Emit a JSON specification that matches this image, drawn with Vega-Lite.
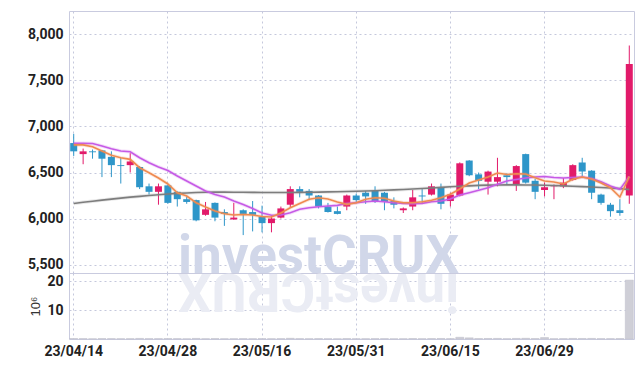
{
  "$schema": "https://vega.github.io/schema/vega-lite/v6.json",
  "padding": {"left": 26, "top": 10, "right": 5, "bottom": 5},
  "background": "white",
  "spacing": 0,
  "bounds": "flush",
  "config": {
    "view": {"stroke": "#c9cbdf", "strokeWidth": 1},
    "axis": {
      "labelFont": "Roboto",
      "labelFontSize": 14,
      "labelFontWeight": "bold",
      "labelColor": "#222222",
      "ticks": false,
      "domain": false,
      "gridColor": "#c5c8dc",
      "gridDash": [2, 3],
      "gridWidth": 1,
      "labelPadding": 6,
      "bandPosition": 0.5
    }
  },
  "datasets": {
    "px": [
      {"d":"23/04/14","o":6820,"h":6920,"l":6680,"c":6730,"v":0.15,"m5":6800,"m10":6817,"m60":6163},
      {"d":"23/04/17","o":6700,"h":6760,"l":6590,"c":6730,"v":0.12,"m5":6800,"m10":6817,"m60":6176},
      {"d":"23/04/18","o":6730,"h":6750,"l":6650,"c":6720,"v":0.08,"m5":6780,"m10":6815,"m60":6188},
      {"d":"23/04/19","o":6740,"h":6745,"l":6450,"c":6650,"v":0.14,"m5":6734,"m10":6788,"m60":6200},
      {"d":"23/04/20","o":6670,"h":6730,"l":6450,"c":6580,"v":0.12,"m5":6687,"m10":6759,"m60":6211},
      {"d":"23/04/21","o":6580,"h":6660,"l":6380,"c":6570,"v":0.10,"m5":6661,"m10":6734,"m60":6222},
      {"d":"23/04/24","o":6580,"h":6710,"l":6500,"c":6620,"v":0.11,"m5":6643,"m10":6726,"m60":6232},
      {"d":"23/04/25","o":6560,"h":6570,"l":6320,"c":6340,"v":0.20,"m5":6552,"m10":6661,"m60":6241},
      {"d":"23/04/26","o":6350,"h":6380,"l":6260,"c":6290,"v":0.12,"m5":6498,"m10":6607,"m60":6250},
      {"d":"23/04/27","o":6290,"h":6380,"l":6150,"c":6350,"v":0.13,"m5":6440,"m10":6560,"m60":6259},
      {"d":"23/04/28","o":6360,"h":6370,"l":6160,"c":6170,"v":0.15,"m5":6375,"m10":6522,"m60":6266},
      {"d":"23/05/02","o":6290,"h":6295,"l":6130,"c":6210,"v":0.12,"m5":6280,"m10":6462,"m60":6273},
      {"d":"23/05/03","o":6210,"h":6240,"l":6160,"c":6180,"v":0.08,"m5":6245,"m10":6408,"m60":6278},
      {"d":"23/05/04","o":6200,"h":6205,"l":5970,"c":5980,"v":0.20,"m5":6172,"m10":6353,"m60":6283},
      {"d":"23/05/08","o":6040,"h":6180,"l":6030,"c":6100,"v":0.10,"m5":6125,"m10":6299,"m60":6286},
      {"d":"23/05/09","o":6170,"h":6175,"l":5970,"c":6010,"v":0.14,"m5":6082,"m10":6261,"m60":6287},
      {"d":"23/05/10","o":6070,"h":6100,"l":5920,"c":6050,"v":0.09,"m5":6052,"m10":6234,"m60":6287},
      {"d":"23/05/11","o":5990,"h":6170,"l":5985,"c":6010,"v":0.10,"m5":6038,"m10":6190,"m60":6286},
      {"d":"23/05/12","o":6090,"h":6100,"l":5820,"c":6050,"v":0.12,"m5":6043,"m10":6152,"m60":6285},
      {"d":"23/05/15","o":6070,"h":6190,"l":5860,"c":6040,"v":0.10,"m5":6038,"m10":6109,"m60":6284},
      {"d":"23/05/16","o":6020,"h":6140,"l":5850,"c":5950,"v":0.13,"m5":6022,"m10":6060,"m60":6283},
      {"d":"23/05/17","o":5950,"h":6030,"l":5850,"c":6000,"v":0.10,"m5":6016,"m10":6035,"m60":6282},
      {"d":"23/05/18","o":6010,"h":6130,"l":6000,"c":6110,"v":0.12,"m5":6060,"m10":6038,"m60":6282},
      {"d":"23/05/19","o":6150,"h":6350,"l":6120,"c":6320,"v":0.25,"m5":6117,"m10":6063,"m60":6283},
      {"d":"23/05/22","o":6320,"h":6350,"l":6230,"c":6290,"v":0.12,"m5":6163,"m10":6100,"m60":6284},
      {"d":"23/05/23","o":6300,"h":6320,"l":6200,"c":6250,"v":0.10,"m5":6209,"m10":6117,"m60":6285},
      {"d":"23/05/24","o":6250,"h":6255,"l":6110,"c":6130,"v":0.14,"m5":6226,"m10":6128,"m60":6287},
      {"d":"23/05/25","o":6130,"h":6170,"l":6065,"c":6070,"v":0.10,"m5":6212,"m10":6136,"m60":6289},
      {"d":"23/05/26","o":6080,"h":6130,"l":6045,"c":6050,"v":0.08,"m5":6179,"m10":6143,"m60":6291},
      {"d":"23/05/30","o":6130,"h":6260,"l":6090,"c":6250,"v":0.15,"m5":6154,"m10":6163,"m60":6293},
      {"d":"23/05/31","o":6250,"h":6270,"l":6180,"c":6200,"v":0.10,"m5":6172,"m10":6172,"m60":6296},
      {"d":"23/06/01","o":6280,"h":6300,"l":6160,"c":6240,"v":0.10,"m5":6209,"m10":6183,"m60":6299},
      {"d":"23/06/02","o":6300,"h":6350,"l":6170,"c":6180,"v":0.12,"m5":6226,"m10":6190,"m60":6302},
      {"d":"23/06/05","o":6280,"h":6290,"l":6090,"c":6180,"v":0.13,"m5":6220,"m10":6183,"m60":6307},
      {"d":"23/06/07","o":6190,"h":6230,"l":6110,"c":6150,"v":0.08,"m5":6190,"m10":6172,"m60":6311},
      {"d":"23/06/08","o":6090,"h":6120,"l":6060,"c":6110,"v":0.09,"m5":6172,"m10":6165,"m60":6315},
      {"d":"23/06/09","o":6130,"h":6310,"l":6090,"c":6230,"v":0.15,"m5":6172,"m10":6161,"m60":6321},
      {"d":"23/06/12","o":6250,"h":6320,"l":6160,"c":6240,"v":0.10,"m5":6183,"m10":6165,"m60":6326},
      {"d":"23/06/13","o":6260,"h":6380,"l":6250,"c":6350,"v":0.15,"m5":6198,"m10":6183,"m60":6332},
      {"d":"23/06/14","o":6340,"h":6380,"l":6100,"c":6160,"v":0.18,"m5":6226,"m10":6190,"m60":6338},
      {"d":"23/06/15","o":6190,"h":6280,"l":6130,"c":6260,"v":0.12,"m5":6263,"m10":6212,"m60":6345},
      {"d":"23/06/16","o":6250,"h":6610,"l":6240,"c":6600,"v":0.60,"m5":6321,"m10":6255,"m60":6350},
      {"d":"23/06/19","o":6630,"h":6635,"l":6460,"c":6470,"v":0.40,"m5":6386,"m10":6280,"m60":6355},
      {"d":"23/06/20","o":6480,"h":6500,"l":6320,"c":6410,"v":0.15,"m5":6418,"m10":6307,"m60":6360},
      {"d":"23/06/21","o":6400,"h":6520,"l":6260,"c":6510,"v":0.18,"m5":6451,"m10":6335,"m60":6363},
      {"d":"23/06/22","o":6400,"h":6660,"l":6350,"c":6450,"v":0.20,"m5":6495,"m10":6372,"m60":6365},
      {"d":"23/06/23","o":6470,"h":6490,"l":6370,"c":6450,"v":0.10,"m5":6478,"m10":6408,"m60":6366},
      {"d":"23/06/26","o":6370,"h":6580,"l":6300,"c":6570,"v":0.20,"m5":6487,"m10":6424,"m60":6366},
      {"d":"23/06/27","o":6700,"h":6705,"l":6380,"c":6390,"v":0.25,"m5":6484,"m10":6440,"m60":6365},
      {"d":"23/06/28","o":6410,"h":6430,"l":6210,"c":6290,"v":0.15,"m5":6443,"m10":6451,"m60":6364},
      {"d":"23/06/29","o":6310,"h":6390,"l":6240,"c":6340,"v":0.50,"m5":6408,"m10":6457,"m60":6362},
      {"d":"23/06/30","o":6350,"h":6370,"l":6210,"c":6360,"v":0.10,"m5":6397,"m10":6446,"m60":6359},
      {"d":"23/07/03","o":6350,"h":6440,"l":6330,"c":6390,"v":0.12,"m5":6375,"m10":6440,"m60":6355},
      {"d":"23/07/04","o":6420,"h":6590,"l":6410,"c":6580,"v":0.20,"m5":6426,"m10":6446,"m60":6351},
      {"d":"23/07/05","o":6610,"h":6660,"l":6460,"c":6510,"v":0.18,"m5":6451,"m10":6451,"m60":6347},
      {"d":"23/07/06","o":6520,"h":6525,"l":6210,"c":6280,"v":0.20,"m5":6429,"m10":6435,"m60":6342},
      {"d":"23/07/07","o":6260,"h":6270,"l":6150,"c":6170,"v":0.12,"m5":6386,"m10":6400,"m60":6337},
      {"d":"23/07/10","o":6150,"h":6170,"l":6020,"c":6080,"v":0.12,"m5":6335,"m10":6353,"m60":6332},
      {"d":"23/07/11","o":6090,"h":6210,"l":6030,"c":6060,"v":0.15,"m5":6234,"m10":6317,"m60":6325},
      {"d":"23/07/12","o":6250,"h":7880,"l":6160,"c":7680,"v":20.3,"m5":6457,"m10":6457,"m60":6315}
    ]
  },
  "vconcat": [
    {
      "width": 565,
      "height": 262,
      "data": {"name": "px"},
      "encoding": {
        "x": {
          "field": "d", "type": "ordinal", "sort": "ascending",
          "scale": {"paddingInner": 0, "paddingOuter": 0},
          "axis": {"labels": false, "title": null, "grid": true, "labelPadding": 0,
                   "values": ["23/04/14","23/04/28","23/05/16","23/05/31","23/06/15","23/06/29"]}
        }
      },
      "layer": [
        {
          "transform": [{"filter": "datum.d == '23/05/24'"}],
          "mark": {"type": "text", "font": "Roboto", "fontWeight": "bold", "fontSize": 53, "align": "center", "baseline": "alphabetic", "color": "#d1d7e9"},
          "encoding": {
            "y": {
              "datum": 5412, "type": "quantitative",
              "scale": {"domain": [5408, 8255], "nice": false, "zero": false},
              "axis": {"title": null, "values": [5500,6000,6500,7000,7500,8000], "labelExpr": "format(datum.value, ',')", "grid": true}
            },
            "text": {"value": "investCRUX"}
          }
        },
        {
          "mark": {"type": "rule", "strokeWidth": 1},
          "encoding": {
            "y": {"field": "l", "type": "quantitative"},
            "y2": {"field": "h"},
            "color": {"condition": {"test": "datum.o < datum.c", "value": "#e21a6a"}, "value": "#2e96c9"}
          }
        },
        {
          "mark": {"type": "bar", "size": 7},
          "encoding": {
            "y": {"field": "o", "type": "quantitative"},
            "y2": {"field": "c"},
            "color": {"condition": {"test": "datum.o < datum.c", "value": "#e21a6a"}, "value": "#2e96c9"}
          }
        },
        {
          "mark": {"type": "line", "color": "#7d7d7d", "strokeWidth": 3.5, "opacity": 0.18},
          "encoding": {"y": {"field": "m60", "type": "quantitative"}}
        },
        {
          "mark": {"type": "line", "color": "#7d7d7d", "strokeWidth": 1.6},
          "encoding": {"y": {"field": "m60", "type": "quantitative"}}
        },
        {
          "mark": {"type": "line", "color": "#c65ae6", "strokeWidth": 3.5, "opacity": 0.2},
          "encoding": {"y": {"field": "m10", "type": "quantitative"}}
        },
        {
          "mark": {"type": "line", "color": "#c65ae6", "strokeWidth": 1.6},
          "encoding": {"y": {"field": "m10", "type": "quantitative"}}
        },
        {
          "mark": {"type": "line", "color": "#ef8a50", "strokeWidth": 3.5, "opacity": 0.2},
          "encoding": {"y": {"field": "m5", "type": "quantitative"}}
        },
        {
          "mark": {"type": "line", "color": "#ef8a50", "strokeWidth": 1.6},
          "encoding": {"y": {"field": "m5", "type": "quantitative"}}
        }
      ]
    },
    {
      "width": 565,
      "height": 66,
      "data": {"name": "px"},
      "encoding": {
        "x": {
          "field": "d", "type": "ordinal", "sort": "ascending",
          "scale": {"paddingInner": 0, "paddingOuter": 0},
          "axis": {"title": null, "labelAngle": 0, "grid": true, "labelPadding": 5,
                   "values": ["23/04/14","23/04/28","23/05/16","23/05/31","23/06/15","23/06/29"]}
        }
      },
      "layer": [
        {
          "transform": [{"filter": "datum.d == '23/05/24'"}],
          "mark": {"type": "text", "font": "Roboto", "fontWeight": "bold", "fontSize": 53, "align": "center", "baseline": "alphabetic", "angle": 180, "color": "#eaecf4"},
          "encoding": {
            "y": {
              "datum": 22.3, "type": "quantitative",
              "scale": {"domain": [0, 22.76], "nice": false},
              "axis": {"values": [10, 20], "grid": true, "title": "10⁶", "labelExpr": "format(datum.value, 'd')",
                       "titleFont": "Liberation Sans, DejaVu Sans, sans-serif", "titleFontWeight": "normal",
                       "titleFontSize": 13, "titleColor": "#333333", "titlePadding": 4}
            },
            "text": {"value": "investCRUX"}
          }
        },
        {
          "mark": {"type": "bar", "size": 8, "color": "#cfcfd7", "stroke": "#bcbcc8", "strokeWidth": 0.5},
          "encoding": {
            "y": {"field": "v", "type": "quantitative"}
          }
        }
      ]
    }
  ]
}
